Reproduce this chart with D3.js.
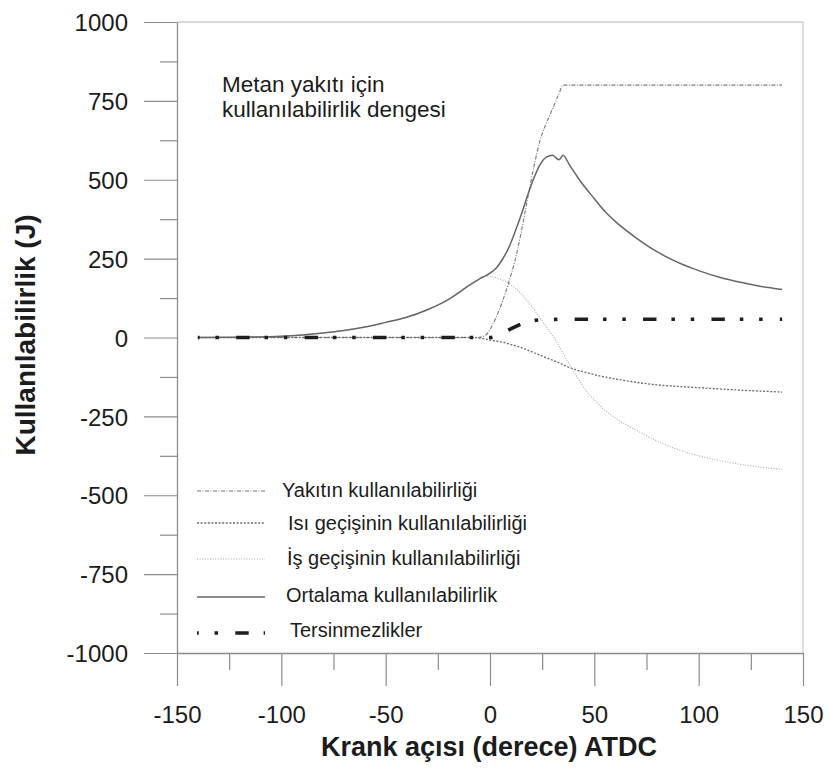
<!DOCTYPE html>
<html>
<head>
<meta charset="utf-8">
<script src="https://cdn.jsdelivr.net/npm/d3@7"></script>
<style>
  html, body { margin: 0; padding: 0; background: #fff; }
  svg { display: block; font-family: "Liberation Sans", Arial, sans-serif; }
</style>
</head>
<body>
<svg id="chart" width="830" height="772"></svg>
<script>
// krank açısı (derece) - tüm seriler için ortak örnekleme noktaları
const angles = [-140,-120,-100,-90,-80,-70,-60,-50,-40,-30,-20,-10,-5,-2,0,3,6,9,12,15,18,21,24,27,30,33,35,38,42,46,50,55,60,70,80,90,100,110,120,130,140];

// Yakıtın kullanılabilirliği
const fuelExergy = [0,0,0,0,0,0,0,0,0,0,0,0,1,8,25,65,115,175,245,335,440,540,625,680,725,772,800,800,800,800,800,800,800,800,800,800,800,800,800,800,800];
// Isı geçişinin kullanılabilirliği
const heatExergy = [0,0,0,0,0,0,0,0,0,0,0,0,-2,-5,-8,-11,-15,-20,-26,-32,-40,-48,-56,-64,-72,-80,-86,-95,-104,-111,-118,-125,-131,-142,-150,-155,-159,-163,-167,-170,-173];
// İş geçişinin kullanılabilirliği
const workExergy = [0,1,4,8,14,22,33,48,64,88,120,165,186,194,193,189,182,172,157,138,115,90,62,34,6,-26,-50,-84,-128,-168,-198,-230,-255,-293,-328,-355,-375,-390,-402,-411,-418];
// Ortalama kullanılabilirlik
const meanExergy = [0,1,4,8,14,22,33,48,64,88,120,165,186,196,204,220,248,285,335,390,450,505,548,572,578,563,578,548,508,472,440,400,368,316,272,238,212,191,175,162,152];
// Tersinmezlikler
const irreversibility = [0,0,0,0,0,0,0,0,0,0,0,0,0,0,0,5,14,24,34,43,50,54,56,57,57,58,58,58,58,58,58,58,58,58,58,58,58,58,58,58,58];

const seriesNames = ["Yakıtın kullanılabilirliği","Isı geçişinin kullanılabilirliği","İş geçişinin kullanılabilirliği","Ortalama kullanılabilirlik","Tersinmezlikler"];

const xTicks = [-150,-100,-50,0,50,100,150];
const xMinorTicks = [-125,-75,-25,25,75,125];
const yTicks = [-1000,-750,-500,-250,0,250,500,750,1000];
const yMinorTicks = [-875,-625,-375,-125,125,375,625,875];

const titleX = "Krank açısı (derece) ATDC";
const titleY = "Kullanılabilirlik (J)";
const noteLines = ["Metan yakıtı için","kullanılabilirlik dengesi"];

// ---- çizim ----
const svg = d3.select('#chart');
const plot = {left:177, right:803, top:22, bottom:653};

const x = d3.scaleLinear([-150,150],[plot.left, plot.right]);
const y = d3.scaleLinear([-1000,1000],[plot.bottom, plot.top]);

const axisColor = '#8c8c8c';
const frameColor = '#cfcfcf';
const textColor = '#1c1c1c';
const plainNum = d => String(d);   // "1000", "-250" (virgül ve özel eksi yok)

// çerçeve (üst ve sağ)
svg.append('path')
  .attr('d', `M${x(-150)},${y(1000)}H${x(150)}V${y(-1000)}`)
  .attr('fill','none').attr('stroke',frameColor).attr('stroke-width',1.3);

// küçük tikler
const yMinor = svg.append('g').attr('transform',`translate(${plot.left},0)`)
  .call(d3.axisLeft(y).tickValues(yMinorTicks).tickSize(17).tickFormat(''));
const xMinor = svg.append('g').attr('transform',`translate(0,${plot.bottom})`)
  .call(d3.axisBottom(x).tickValues(xMinorTicks).tickSize(17).tickFormat(''));
[yMinor, xMinor].forEach(g => {
  g.select('.domain').remove();
  g.selectAll('line').attr('stroke',axisColor).attr('stroke-width',1.2);
});

// ana eksenler
const yAxis = d3.axisLeft(y).tickValues(yTicks).tickFormat(plainNum).tickSize(33).tickPadding(16).tickSizeOuter(0);
const xAxis = d3.axisBottom(x).tickValues(xTicks).tickFormat(plainNum).tickSize(33).tickPadding(20).tickSizeOuter(0);

const yAxisDraw = svg.append('g').attr('transform',`translate(${plot.left},0)`).call(yAxis);
const xAxisDraw = svg.append('g').attr('transform',`translate(0,${plot.bottom})`).call(xAxis);

[yAxisDraw, xAxisDraw].forEach(g => {
  g.select('.domain').attr('stroke',axisColor).attr('stroke-width',1.3);
  g.selectAll('line').attr('stroke',axisColor).attr('stroke-width',1.2);
  g.selectAll('text').attr('fill',textColor).style('font-size','24px')
    .style('font-family','"Liberation Sans", Arial, sans-serif');
});
yAxisDraw.selectAll('text').attr('dy','0.36em');

// eksen başlıkları
svg.append('text')
  .attr('x', 489).attr('y', 756)
  .attr('text-anchor','middle')
  .attr('fill',textColor)
  .style('font-size','27px').style('font-weight','bold')
  .text(titleX);

svg.append('text')
  .attr('transform','translate(35,335) rotate(-90)')
  .attr('text-anchor','middle')
  .attr('fill',textColor)
  .style('font-size','28px').style('font-weight','bold')
  .text(titleY);

// açıklama notu
const note = svg.append('text').attr('fill',textColor).style('font-size','22.5px');
noteLines.forEach((t,i) => {
  note.append('tspan').attr('x',222).attr('y',92 + i*25).text(t);
});

// seriler
const seriesValues = [fuelExergy, heatExergy, workExergy, meanExergy, irreversibility];
const seriesStyle = [
  {stroke:'#7a7a7a', width:1.1, dash:'4 1.5 1 1.5'},
  {stroke:'#6a6a6a', width:1.3, dash:'2 1.6'},
  {stroke:'#a8a8a8', width:1.1, dash:'1 1.6'},
  {stroke:'#666666', width:1.5, dash:null},
  {stroke:'#1e1e1e', width:3.6, dash:'3.5 15.8 3.5 17.25 13.4 14.95'}
];

const line = d3.line()
  .x(d => x(d[0]))
  .y(d => y(d[1]))
  .curve(d3.curveMonotoneX);

const lines = svg.append('g').attr('class','lines');
seriesValues.forEach((vals,i) => {
  const pts = angles.map((a,j) => [a, vals[j]]);
  const st = seriesStyle[i];
  lines.append('path')
    .datum(pts)
    .attr('d', line)
    .attr('fill','none')
    .attr('stroke', st.stroke)
    .attr('stroke-width', st.width)
    .attr('stroke-dasharray', st.dash)
    .attr('stroke-dashoffset', i === 4 ? 1.75 : 0);
});

// lejant
const legendLayout = [
  {ly:491, tx:282, ty:490},
  {ly:523, tx:288, ty:523},
  {ly:559, tx:287, ty:558},
  {ly:597, tx:286, ty:595},
  {ly:633, tx:290, ty:630}
];
const legend = svg.append('g').attr('class','legend');
seriesNames.forEach((name,i) => {
  const st = seriesStyle[i];
  const L = legendLayout[i];
  legend.append('line')
    .attr('x1',197).attr('x2',265)
    .attr('y1',L.ly).attr('y2',L.ly)
    .attr('stroke', st.stroke)
    .attr('stroke-width', i === 3 ? 1.4 : st.width)
    .attr('stroke-dasharray', st.dash)
    .attr('stroke-dashoffset', i === 4 ? 1.75 : 0);
  legend.append('text')
    .attr('x',L.tx).attr('y',L.ty).attr('dy','0.35em')
    .attr('fill',textColor)
    .style('font-size','20px')
    .text(name);
});
</script>
</body>
</html>
